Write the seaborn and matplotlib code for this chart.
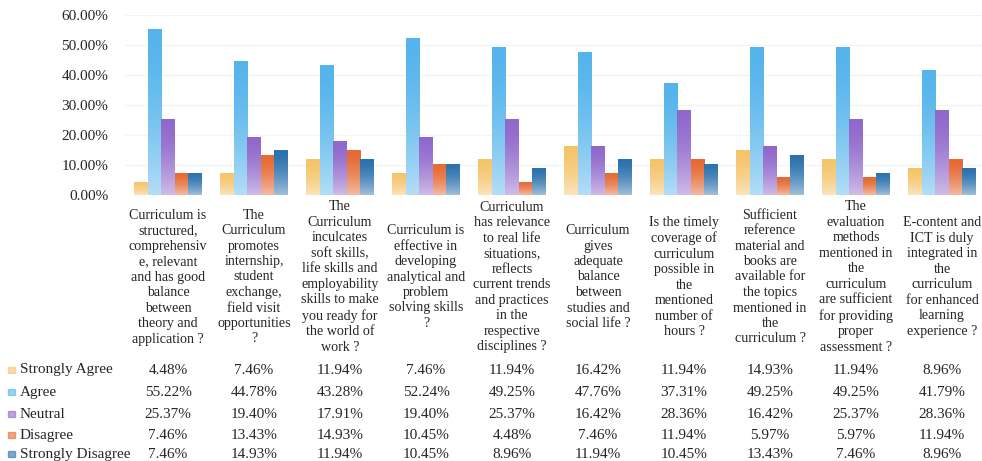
import numpy as np
import pandas as pd
import matplotlib
matplotlib.use("Agg")
import matplotlib.pyplot as plt
import matplotlib.transforms as mtransforms
from matplotlib.colors import to_rgb
import seaborn as sns

# data
questions = [
    "Curriculum is\nstructured,\ncomprehensiv\ne, relevant\nand has good\nbalance\nbetween\ntheory and\napplication ?",
    "The\nCurriculum\npromotes\ninternship,\nstudent\nexchange,\nfield visit\nopportunities\n?",
    "The\nCurriculum\ninculcates\nsoft skills,\nlife skills and\nemployability\nskills to make\nyou ready for\nthe world of\nwork ?",
    "Curriculum is\neffective in\ndeveloping\nanalytical and\nproblem\nsolving skills\n?",
    "Curriculum\nhas relevance\nto real life\nsituations,\nreflects\ncurrent trends\nand practices\nin the\nrespective\ndisciplines ?",
    "Curriculum\ngives\nadequate\nbalance\nbetween\nstudies and\nsocial life ?",
    "Is the timely\ncoverage of\ncurriculum\npossible in\nthe\nmentioned\nnumber of\nhours ?",
    "Sufficient\nreference\nmaterial and\nbooks are\navailable for\nthe topics\nmentioned in\nthe\ncurriculum ?",
    "The\nevaluation\nmethods\nmentioned in\nthe\ncurriculum\nare sufficient\nfor providing\nproper\nassessment ?",
    "E-content and\nICT is duly\nintegrated in\nthe\ncurriculum\nfor enhanced\nlearning\nexperience ?",
]
responses = ["Strongly Agree", "Agree", "Neutral", "Disagree", "Strongly Disagree"]
strongly_agree = [4.48, 7.46, 11.94, 7.46, 11.94, 16.42, 11.94, 14.93, 11.94, 8.96]
agree = [55.22, 44.78, 43.28, 52.24, 49.25, 47.76, 37.31, 49.25, 49.25, 41.79]
neutral = [25.37, 19.40, 17.91, 19.40, 25.37, 16.42, 28.36, 16.42, 25.37, 28.36]
disagree = [7.46, 13.43, 14.93, 10.45, 4.48, 7.46, 11.94, 5.97, 5.97, 11.94]
strongly_disagree = [7.46, 14.93, 11.94, 10.45, 8.96, 11.94, 10.45, 13.43, 7.46, 8.96]
yticks = [0, 10, 20, 30, 40, 50, 60]

colors = ["#F5C46A", "#55B4EC", "#9068CC", "#E56A33", "#2C72AE"]

series = [strongly_agree, agree, neutral, disagree, strongly_disagree]
q_ids = [f"q{i}" for i in range(len(questions))]
df = pd.DataFrame({
    "question": np.tile(q_ids, len(responses)),
    "response": np.repeat(responses, len(questions)),
    "value": np.concatenate(series),
})

sns.set_style("white")
plt.rcParams["font.family"] = ["Liberation Serif", "DejaVu Serif"]

W, H = 982, 461
fig = plt.figure(figsize=(W / 100, H / 100), dpi=100)
ax = fig.add_axes([125 / W, 1 - 195 / H, 860 / W, 180 / H])

sns.barplot(data=df, x="question", y="value", hue="response", order=q_ids,
            hue_order=responses, palette=colors, width=0.78, ax=ax,
            legend=False, errorbar=None, saturation=1)

# gradient fill: full colour on top, fading towards the base
for bar in list(ax.patches):
    x0, y0 = bar.get_x(), bar.get_y()
    w, h = bar.get_width(), bar.get_height()
    if h <= 0:
        continue
    c = np.array(to_rgb(bar.get_facecolor()))
    t = np.linspace(0, 1, 64)[:, None]
    grad = c * (1 - 0.55 * t ** 1.6) + 0.55 * t ** 1.6
    img = ax.imshow(grad[:, None, :], extent=[x0, x0 + w, y0, y0 + h],
                    aspect="auto", origin="upper", zorder=2)
    img.set_clip_path(bar)
    bar.set_alpha(0)

ax.set_xlim(-0.5, len(questions) - 0.5)
ax.set_ylim(0, 60)
ax.set_yticks(yticks)
ax.set_yticklabels([f"{v:.2f}%" for v in yticks], fontsize=11)
ax.tick_params(axis="y", length=0, pad=12)
ax.set_xticks([])
ax.set_xlabel("")
ax.set_ylabel("")
ax.grid(axis="y", color="#f3f3f3", linewidth=0.8)
ax.set_axisbelow(True)
sns.despine(ax=ax, left=True, bottom=True)

# question labels and the data table beneath
trans = mtransforms.blended_transform_factory(ax.transData, fig.transFigure)
for i, q in enumerate(questions):
    ax.text(i, 1 - 277 / H, q, transform=trans, ha="center", va="center",
            fontsize=10.1, linespacing=1.25, clip_on=False)

row_y = [370, 392, 414, 435, 454]
for r, (name, vals) in enumerate(zip(responses, series)):
    fy = 1 - row_y[r] / H
    fig.patches.append(plt.Rectangle((8 / W, fy - 3 / H), 7 / W, 6 / H,
                                     transform=fig.transFigure,
                                     color=colors[r], alpha=0.6))
    fig.text(20 / W, fy, name, fontsize=11, va="center", ha="left")
    for i, v in enumerate(vals):
        ax.text(i, fy, f"{v:.2f}%", transform=trans, ha="center",
                va="center", fontsize=11, clip_on=False)

fig.savefig("out.png", dpi=100)
